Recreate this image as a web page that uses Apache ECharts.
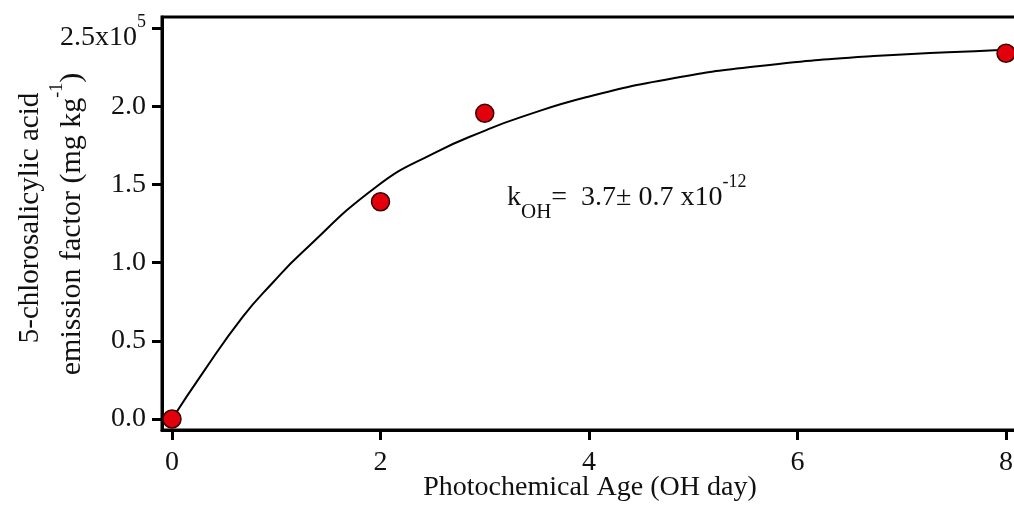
<!DOCTYPE html>
<html>
<head>
<meta charset="utf-8">
<script src="https://cdn.jsdelivr.net/npm/echarts@6/dist/echarts.min.js"></script>
<style>
html,body{margin:0;padding:0;background:#fff;}
#chart{width:1014px;height:512px;}
</style>
</head>
<body>
<div id="chart"></div>
<script>
// Measured data (emission factor, mg kg^-1)
var pointAges = [0, 2, 3, 8];
var pointValues = [0, 139000, 195600, 234000];

// Fitted curve
var curveAges = [0, 0.30, 0.68, 0.97, 1.24, 1.96, 2.51, 3.02, 3.34, 3.98, 4.81, 5.64, 6.73, 7.94, 8.0];
var curveValues = [0, 30000, 65500, 87500, 106000, 148600, 170000, 185000, 193000, 206000, 218000, 225800, 232200, 236100, 236300];

var xTicks = [0, 2, 4, 6, 8];
var yTicks = [0, 50000, 100000, 150000, 200000, 250000];

var yTitleLine1 = '5-chlorosalicylic acid';
var yTitleLine2 = '{m|emission factor (mg kg}{s|-1}{m|)}';
var xTitle = 'Photochemical Age (OH day)';
var fitText = 'k{sub|OH}=  3.7\u00b1 0.7 x10{sup|-12}';

var FONT = '"Liberation Serif", "Times New Roman", serif';
var INK = '#111';

function pairs(xs, ys) { return xs.map(function (x, i) { return [x, ys[i]]; }); }

var chart = echarts.init(document.getElementById('chart'), null, {renderer: 'canvas'});
chart.setOption({
  backgroundColor: '#fff',
  animation: false,
  grid: {
    left: 162, top: 17, width: 856, height: 413,
    show: true, borderColor: '#000', borderWidth: 3,
    outerBoundsMode: 'none', containLabel: false
  },
  xAxis: {
    type: 'value', min: -0.096, max: 8.115,
    splitLine: {show: false},
    axisLine: {show: true, onZero: false, lineStyle: {color: '#000', width: 3}},
    axisTick: {show: true, inside: false, length: 10, lineStyle: {color: '#000', width: 3}, customValues: xTicks},
    axisLabel: {customValues: xTicks, margin: 19, fontFamily: FONT, fontSize: 28, color: INK,
      formatter: function (v) { return String(v); }},
    name: xTitle, nameLocation: 'middle', nameGap: 44,
    nameMoveOverlap: false,
    nameTextStyle: {fontFamily: FONT, fontSize: 28, color: INK}
  },
  yAxis: {
    type: 'value', min: -7040, max: 257200,
    splitLine: {show: false},
    axisLine: {show: true, onZero: false, lineStyle: {color: '#000', width: 3}},
    axisTick: {show: true, inside: false, length: 10, lineStyle: {color: '#000', width: 3}, customValues: yTicks},
    axisLabel: {customValues: yTicks, margin: 16, fontFamily: FONT, fontSize: 28, color: INK,
      formatter: function (v) {
        if (v === 250000) return '{m|2.5x10}{s|5}';
        return (v / 1e5).toFixed(1);
      },
      rich: {
        m: {fontFamily: FONT, fontSize: 28, color: INK, lineHeight: 28, padding: [18, 0, 0, 0]},
        s: {fontFamily: FONT, fontSize: 18, color: INK, lineHeight: 30, verticalAlign: 'top'}
      }
    }
  },
  series: [
    {
      type: 'line', data: pairs(curveAges, curveValues),
      smooth: 0.5, showSymbol: false, symbol: 'none',
      lineStyle: {color: '#000', width: 2}, z: 2, silent: true
    },
    {
      type: 'scatter', data: pairs(pointAges, pointValues),
      symbol: 'circle', symbolSize: 18,
      itemStyle: {color: '#e2000c', borderColor: '#3a0000', borderWidth: 1.5, opacity: 1},
      z: 3
    }
  ],
  graphic: [
    {
      type: 'text', left: 507, top: 173, z: 10,
      style: {
        text: fitText,
        fontFamily: FONT, fontSize: 28, fill: INK, lineHeight: 50,
        rich: {
          sub: {fontFamily: FONT, fontSize: 21, fill: INK, lineHeight: 30, verticalAlign: 'bottom'},
          sup: {fontFamily: FONT, fontSize: 18, fill: INK, lineHeight: 20, verticalAlign: 'top'}
        }
      }
    },
    {
      type: 'text', x: 30, y: 218, rotation: Math.PI / 2, z: 10,
      style: {
        text: yTitleLine1, fontFamily: FONT, fontSize: 29, fill: INK,
        align: 'center', verticalAlign: 'middle'
      }
    },
    {
      type: 'text', x: 62, y: 224, rotation: Math.PI / 2, z: 10,
      style: {
        text: yTitleLine2, fontFamily: FONT, fontSize: 30, fill: INK,
        align: 'center', verticalAlign: 'middle',
        rich: {
          m: {fontFamily: FONT, fontSize: 30, fill: INK, lineHeight: 28, padding: [20, 0, 0, 0]},
          s: {fontFamily: FONT, fontSize: 18, fill: INK, lineHeight: 4, verticalAlign: 'top'}
        }
      }
    }
  ]
});
</script>
</body>
</html>
